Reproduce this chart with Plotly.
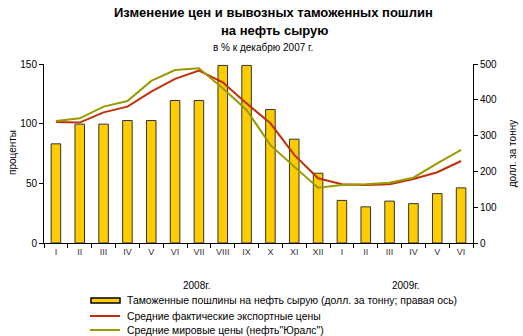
import plotly.graph_objects as go

months = ["I", "II", "III", "IV", "V", "VI", "VII", "VIII", "IX", "X", "XI", "XII",
          "I", "II", "III", "IV", "V", "VI"]
duties = [277, 332, 332, 342, 342, 398, 398, 496, 496, 373, 290, 195,
          119, 101, 117, 110, 138, 154]
export_prices = [101.4, 100.9, 109.5, 114.3, 126.8, 137.5, 144.5, 134.7, 117.0,
                 100.3, 73.8, 54.2, 49.2, 48.6, 49.2, 53.6, 59.3, 68.7]
world_prices = [102.3, 104.5, 114.3, 119.0, 135.8, 145.0, 146.4, 129.7, 111.5,
                82.0, 64.0, 46.4, 48.6, 49.2, 50.5, 54.7, 66.8, 78.0]
names = ["Таможенные пошлины на нефть сырую (долл. за тонну; правая ось)",
         "Средние фактические экспортные цены",
         "Средние мировые цены (нефть\"Юралс\")"]

BAR_COLOR = "#FFCC00"
RED = "#C0300A"
OLIVE = "#999900"

xs = list(range(len(months)))
FONT = "Liberation Sans, Arial, sans-serif"

# plot area in pixels: x 44..473, y 64..243
def px(xp):
    return (xp - 44) / 429

def py(yp):
    return (243 - yp) / 179

fig = go.Figure()
fig.add_trace(go.Bar(x=xs, y=duties, name=names[0], yaxis="y",
                     marker=dict(color=BAR_COLOR, line=dict(color="#333333", width=1)),
                     width=0.4))
fig.add_trace(go.Scatter(x=xs, y=export_prices, name=names[1], yaxis="y2",
                         mode="lines", line=dict(color=RED, width=2)))
fig.add_trace(go.Scatter(x=xs, y=world_prices, name=names[2], yaxis="y2",
                         mode="lines", line=dict(color=OLIVE, width=2)))

annotations = [
    dict(text="<b>Изменение цен и вывозных таможенных пошлин</b>", x=px(273), y=py(13),
         font=dict(size=13)),
    dict(text="<b>на нефть сырую</b>", x=px(274), y=py(31), font=dict(size=13)),
    dict(text="в % к декабрю 2007 г.", x=px(263), y=py(47), font=dict(size=10)),
    dict(text="2008г.", x=px(196), y=py(285), font=dict(size=10)),
    dict(text="2009г.", x=px(405), y=py(285), font=dict(size=10)),
    dict(text="проценты", x=px(12), y=py(153), textangle=-90, font=dict(size=10)),
]
legend_rows = [300.5, 316, 330]
for name, yrow in zip(names, legend_rows):
    annotations.append(dict(text=name, x=px(125), y=py(yrow), xanchor="left",
                            font=dict(size=10.4)))
for a in annotations:
    a.update(xref="paper", yref="paper", showarrow=False, yanchor="middle")
    a.setdefault("xanchor", "center")

shapes = [
    dict(type="rect", x0=px(91), x1=px(120), y0=py(303), y1=py(298),
         fillcolor=BAR_COLOR, line=dict(color="#000000", width=1.5)),
    dict(type="line", x0=px(90), x1=px(120), y0=py(legend_rows[1]), y1=py(legend_rows[1]),
         line=dict(color=RED, width=2)),
    dict(type="line", x0=px(90), x1=px(120), y0=py(legend_rows[2]), y1=py(legend_rows[2]),
         line=dict(color=OLIVE, width=2)),
]
for s in shapes:
    s.update(xref="paper", yref="paper")

fig.update_layout(
    width=523, height=336,
    margin=dict(l=44, r=50, t=64, b=93, autoexpand=False),
    paper_bgcolor="white", plot_bgcolor="white",
    font=dict(family=FONT, size=10, color="#000000"),
    showlegend=False,
    xaxis=dict(range=[-0.5, 17.5], tickmode="array", tickvals=xs, ticktext=months,
               ticks="", showgrid=False, zeroline=False, showline=True,
               linecolor="#000000", linewidth=1,
               tickfont=dict(size=9, color="#333333"),
               minor=dict(tickmode="array", tickvals=[i - 0.5 for i in range(19)],
                          ticks="outside", ticklen=4, tickcolor="#000000", showgrid=False)),
    yaxis=dict(side="right", range=[0, 500], tickvals=[0, 100, 200, 300, 400, 500],
               showgrid=False, zeroline=False, showline=True, linecolor="#000000",
               ticks="outside", ticklen=4, tickcolor="#000000",
               tickfont=dict(size=10),
               title=dict(text="долл. за тонну", font=dict(size=10), standoff=12)),
    yaxis2=dict(side="left", overlaying="y", range=[0, 150], tickvals=[0, 50, 100, 150],
                showgrid=False, zeroline=False, showline=True, linecolor="#000000",
                ticks="outside", ticklen=4, tickcolor="#000000",
                tickfont=dict(size=10)),
    annotations=annotations,
    shapes=shapes,
)

fig.write_html("out.html")
